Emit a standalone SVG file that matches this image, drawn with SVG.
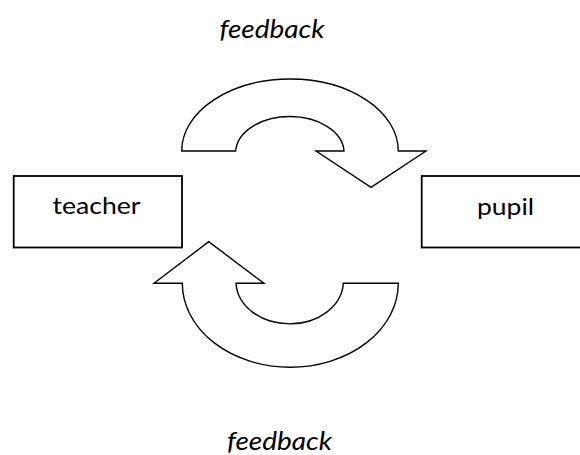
<svg xmlns="http://www.w3.org/2000/svg" width="580" height="455" viewBox="0 0 580 455">
  <style>
    .box { fill: #ffffff; stroke: #000000; stroke-width: 1.8; }
    .loop { fill: #ffffff; stroke: #000000; stroke-width: 1.4; stroke-linejoin: miter; }
    .label { font-family: Lato, "Open Sans", "Liberation Sans", sans-serif; font-size: 24px; fill: #000000; text-anchor: middle; }
    .note { font-family: Lato, "Open Sans", "Liberation Sans", sans-serif; font-size: 26px; font-style: italic; fill: #000000; text-anchor: middle; }
  </style>
  <rect width="580" height="455" fill="#ffffff"/>

  <!-- curved feedback arrows -->
  <g id="connectors">
    <!-- upper arc: teacher to pupil -->
    <path class="loop" d="M181.7,151 A108.3,72 0 0 1 398.3,151 L426,151 L371,187.3 L316,151 L344,151 A54.2,36 0 0 0 235.7,151 Z"/>
    <!-- lower arc: pupil back to teacher -->
    <path class="loop" d="M182.3,283.3 A108,84 0 0 0 398.3,283.3 L343.3,283.3 A53.7,42.4 0 0 1 236,283.3 L264,283.3 L208.7,241.7 L154,283.3 Z"/>
  </g>

  <g id="teacher">
    <rect class="box" x="13.7" y="176" width="168.3" height="71.5"/>
    <text class="label" x="96.5" y="214" textLength="88" lengthAdjust="spacingAndGlyphs">teacher</text>
  </g>

  <g id="pupil">
    <rect class="box" x="421.7" y="176" width="170" height="71.5"/>
    <text class="label" x="505.5" y="215" textLength="57" lengthAdjust="spacingAndGlyphs">pupil</text>
  </g>

  <g id="feedback-top">
    <text class="note" x="272" y="38" textLength="105" lengthAdjust="spacingAndGlyphs">feedback</text>
  </g>

  <g id="feedback-bottom">
    <text class="note" x="279.5" y="449.5" textLength="105" lengthAdjust="spacingAndGlyphs">feedback</text>
  </g>
</svg>
